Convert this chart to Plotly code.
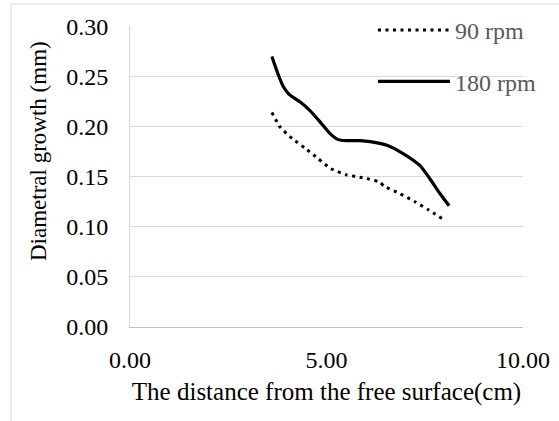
import plotly.graph_objects as go

# Distance from the free surface (cm) and diametral growth (mm)
x_90 = [3.61, 3.83, 4.13, 4.47, 4.79, 5.11, 5.50, 5.92, 6.33, 6.49, 6.87, 7.25, 7.59, 7.95]
y_90 = [0.214, 0.199, 0.188, 0.178, 0.168, 0.158, 0.152, 0.149, 0.145, 0.140, 0.133, 0.125, 0.117, 0.108]

x_180 = [3.61, 3.78, 3.90, 4.03, 4.16, 4.33, 4.58, 4.83, 5.09, 5.30, 5.51, 5.85, 6.11, 6.57, 6.95, 7.38, 7.63, 7.89, 8.12]
y_180 = [0.270, 0.251, 0.240, 0.233, 0.229, 0.2245, 0.216, 0.205, 0.193, 0.187, 0.186, 0.186, 0.185, 0.181, 0.173, 0.161, 0.148, 0.133, 0.121]

FONT = "Liberation Serif, Times New Roman, serif"

fig = go.Figure()
fig.add_trace(go.Scatter(
    x=x_90, y=y_90, name="90 rpm", mode="lines", legendgroup="a",
    line=dict(color="black", width=3, dash="3px,4.5px", shape="spline", smoothing=0.5),
))
fig.add_trace(go.Scatter(
    x=x_180, y=y_180, name="180 rpm", mode="lines", legendgroup="b",
    line=dict(color="black", width=3.2, shape="spline", smoothing=0.5),
))

fig.update_layout(
    width=559, height=421,
    margin=dict(l=130, r=36, t=26, b=94, autoexpand=False),
    paper_bgcolor="white", plot_bgcolor="white",
    font=dict(family=FONT, size=24, color="black"),
    showlegend=True,
    legend=dict(
        x=(373 - 130) / 393, xanchor="left",
        y=(327 - 8) / 301, yanchor="top",
        bgcolor="rgba(0,0,0,0)",
        font=dict(family=FONT, size=24, color="#595959"),
        traceorder="grouped", tracegroupgap=17, itemwidth=72,
    ),
    xaxis=dict(
        range=[0, 10], dtick=5, tickformat=".2f",
        showgrid=False, zeroline=False,
        showline=True, linecolor="#bfbfbf", linewidth=1,
        ticks="", ticklabelstandoff=11,
        tickfont=dict(family=FONT, size=24, color="black"),
        title=dict(text="The distance from the free surface(cm)", standoff=10,
                   font=dict(family=FONT, size=25, color="black")),
    ),
    yaxis=dict(
        # upper bound nudged past 0.30 so the top gridline is kept
        range=[0, 0.3004], dtick=0.05, tickformat=".2f",
        showgrid=True, gridcolor="#d9d9d9", gridwidth=1,
        zeroline=False, showline=True, linecolor="#d9d9d9", linewidth=1,
        ticks="", ticklabelstandoff=16,
        tickfont=dict(family=FONT, size=24, color="black"),
    ),
    annotations=[dict(
        text="Diametral growth (mm)", textangle=-90,
        xref="paper", yref="paper",
        x=(38 - 130) / 393, y=(327 - 151) / 301,
        xanchor="center", yanchor="middle", showarrow=False,
        font=dict(family=FONT, size=23, color="black"),
    )],
    shapes=[dict(
        # chart-area frame
        type="rect", xref="paper", yref="paper", layer="above",
        x0=(11 - 130) / 393, x1=1.5, y0=-0.6, y1=(327 - 4) / 301,
        line=dict(color="#d9d9d9", width=1), fillcolor="rgba(0,0,0,0)",
    )],
)

fig.write_html("out.html")
